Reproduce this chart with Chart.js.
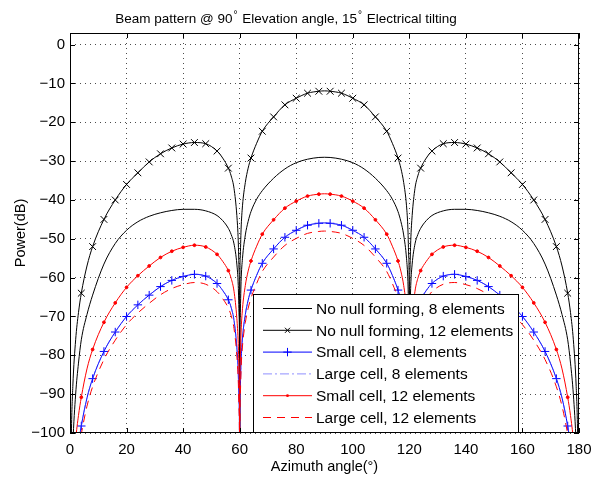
<!DOCTYPE html>
<html>
<head>
<meta charset="utf-8">
<script src="https://cdn.jsdelivr.net/npm/chart.js@4.4.1/dist/chart.umd.min.js"></script>
<style>
    html, body { margin: 0; padding: 0; background: #fff; }
</style>
</head>
<body>
<canvas id="beamChart" width="592" height="478"></canvas>
<script>
// Azimuth samples (deg) shared by all curves, denser next to the nulls
const AZIMUTH = [
    0, 0.5, 1, 2, 3, 4, 6, 8, 12, 16, 20, 24, 28, 32, 36, 40, 44, 48, 52, 54, 56, 57, 58, 59, 59.5, 59.8, 59.95,
    60,
    60.05, 60.2, 60.5, 61, 62, 63, 64, 66, 68, 72, 76, 80, 84, 88,
    90,
    92, 96, 100, 104, 108, 112, 114, 116, 117, 118, 119, 119.5, 119.8, 119.95,
    120,
    120.05, 120.2, 120.5, 121, 122, 123, 124, 126, 128, 132, 136, 140, 144, 148, 152, 156, 160, 164, 168, 172, 174, 176, 177, 178, 179, 179.5, 180
];

// Power (dB)
const NO_NULL_8 = [
    -130, -115, -103, -90, -82, -76, -69.5, -64.5, -56.5, -51.2, -47.8, -45.6, -44.2, -43.3, -42.7, -42.4, -42.4, -42.8, -44, -45.3, -47.3, -48.9, -51.3, -56.5, -62, -70, -82,
    -130,
    -82, -70, -61, -55, -49, -45.5, -43, -39.8, -37.6, -34.4, -32, -30.4, -29.5, -29.05,
    -29,
    -29.05, -29.5, -30.4, -32, -34.4, -37.6, -39.8, -43, -45.5, -49, -55, -61, -70, -82,
    -130,
    -82, -70, -62, -56.5, -51.3, -48.9, -47.3, -45.3, -44, -42.8, -42.4, -42.4, -42.7, -43.3, -44.2, -45.6, -47.8, -51.2, -56.5, -64.5, -69.5, -76, -82, -90, -103, -115, -130
];
const NO_NULL_12 = [
    -130, -100, -88, -76, -69, -64, -57, -52, -45, -40, -36, -33, -30.2, -28.1, -26.6, -25.6, -25.2, -25.5, -27.4, -29.2, -31.8, -33.8, -37, -44, -50.5, -58.5, -71,
    -130,
    -67, -55, -47.5, -41.5, -35.5, -31.8, -29.2, -25.4, -22.3, -18.6, -15.5, -13.8, -12.5, -12,
    -11.9,
    -12, -12.5, -13.8, -15.5, -18.6, -22.3, -25.4, -29.2, -31.8, -35.5, -41.5, -47.5, -55, -67,
    -130,
    -71, -58.5, -50.5, -44, -37, -33.8, -31.8, -29.2, -27.4, -25.5, -25.2, -25.6, -26.6, -28.1, -30.2, -33, -36, -40, -45, -52, -57, -64, -69, -76, -88, -100, -130
];
const SMALL_8 = [
    -160, -134, -122, -110, -103, -98.2, -91, -86, -79, -74, -70, -67, -64.5, -62.3, -60.7, -59.7, -59.15, -59.6, -61.5, -63.3, -65.7, -67.7, -71, -78, -84.5, -92.5, -105,
    -160,
    -101, -89, -81.5, -75.5, -69.5, -65.8, -63.2, -59.4, -56.3, -52.6, -49.6, -47.8, -46.5, -46,
    -45.9,
    -46, -46.5, -47.8, -49.6, -52.6, -56.3, -59.4, -63.2, -65.8, -69.5, -75.5, -81.5, -89, -101,
    -160,
    -105, -92.5, -84.5, -78, -71, -67.7, -65.7, -63.3, -61.5, -59.6, -59.15, -59.7, -60.7, -62.3, -64.5, -67, -70, -74, -79, -86, -91, -98.2, -103, -110, -122, -134, -160
];
// lies on top of the small cell curve in the figure
const LARGE_8 = [
    -160, -134, -122, -110, -103, -98.2, -91, -86, -79, -74, -70, -67, -64.5, -62.3, -60.7, -59.7, -59.15, -59.6, -61.5, -63.3, -65.7, -67.7, -71, -78, -84.5, -92.5, -105,
    -160,
    -101, -89, -81.5, -75.5, -69.5, -65.8, -63.2, -59.4, -56.3, -52.6, -49.6, -47.8, -46.5, -46,
    -45.9,
    -46, -46.5, -47.8, -49.6, -52.6, -56.3, -59.4, -63.2, -65.8, -69.5, -75.5, -81.5, -89, -101,
    -160,
    -105, -92.5, -84.5, -78, -71, -67.7, -65.7, -63.3, -61.5, -59.6, -59.15, -59.7, -60.7, -62.3, -64.5, -67, -70, -74, -79, -86, -91, -98.2, -103, -110, -122, -134, -160
];
const SMALL_12 = [
    -150, -126, -114, -102, -95.5, -90.8, -83.5, -78.5, -71.5, -66.5, -62.5, -59.5, -57, -54.8, -53.2, -52.2, -51.65, -52.1, -54, -55.8, -58.2, -60.2, -63.5, -70.5, -77, -85, -97.5,
    -150,
    -93.5, -81.5, -74, -68, -62, -58.3, -55.7, -51.9, -48.8, -45.1, -42.1, -40.3, -39, -38.5,
    -38.4,
    -38.5, -39, -40.3, -42.1, -45.1, -48.8, -51.9, -55.7, -58.3, -62, -68, -74, -81.5, -93.5,
    -150,
    -97.5, -85, -77, -70.5, -63.5, -60.2, -58.2, -55.8, -54, -52.1, -51.65, -52.2, -53.2, -54.8, -57, -59.5, -62.5, -66.5, -71.5, -78.5, -83.5, -90.8, -95.5, -102, -114, -126, -150
];
const LARGE_12 = [
    -162, -136, -124, -112, -105, -100.3, -93.1, -88.1, -81.1, -76.1, -72.1, -69.1, -66.6, -64.4, -62.8, -61.8, -61.25, -61.7, -63.6, -65.4, -67.8, -69.8, -73.1, -80.1, -86.6, -94.6, -107,
    -162,
    -103, -91.1, -83.6, -77.6, -71.6, -67.9, -65.3, -61.5, -58.4, -54.7, -51.7, -49.9, -48.6, -48.1,
    -48,
    -48.1, -48.6, -49.9, -51.7, -54.7, -58.4, -61.5, -65.3, -67.9, -71.6, -77.6, -83.6, -91.1, -103,
    -162,
    -107, -94.6, -86.6, -80.1, -73.1, -69.8, -67.8, -65.4, -63.6, -61.7, -61.25, -61.8, -62.8, -64.4, -66.6, -69.1, -72.1, -76.1, -81.1, -88.1, -93.1, -100.3, -105, -112, -124, -136, -162
];

const X_TICKS = [0, 20, 40, 60, 80, 100, 120, 140, 160, 180];
const Y_TICKS = [-100, -90, -80, -70, -60, -50, -40, -30, -20, -10, 0];

const FONT = '"Liberation Sans", Arial, Helvetica, sans-serif';

// markers sit on every 4th degree, never on the nulls
const onMarker = x => x % 4 === 0 && x % 60 !== 0;
const markerRadius = r => ctx => (ctx.raw && onMarker(ctx.raw.x) ? r : 0);

const toPoints = values => AZIMUTH.map((x, i) => ({ x, y: values[i] }));

const SERIES = [
    { label: 'No null forming, 8 elements', values: NO_NULL_8, color: '#000000', dash: [], marker: null },
    { label: 'No null forming, 12 elements', values: NO_NULL_12, color: '#000000', dash: [], marker: 'crossRot', size: 4.8 },
    { label: 'Small cell, 8 elements', values: SMALL_8, color: '#0000ff', dash: [], marker: 'cross', size: 4.2 },
    { label: 'Large cell, 8 elements', values: LARGE_8, color: 'rgba(70, 70, 255, 0.6)', dash: [9, 3, 2, 3], marker: null },
    { label: 'Small cell, 12 elements', values: SMALL_12, color: '#ff0000', dash: [], marker: 'circle', size: 1.4 },
    { label: 'Large cell, 12 elements', values: LARGE_12, color: '#ff0000', dash: [8, 6], marker: null }
];

const drawMarker = (ctx, style, x, y, size, color) => {
    ctx.save();
    ctx.strokeStyle = color;
    ctx.fillStyle = color;
    ctx.lineWidth = 1;
    ctx.beginPath();
    if (style === 'crossRot') {
        const d = size * Math.SQRT1_2;
        ctx.moveTo(x - d, y - d); ctx.lineTo(x + d, y + d);
        ctx.moveTo(x - d, y + d); ctx.lineTo(x + d, y - d);
        ctx.stroke();
    } else if (style === 'cross') {
        ctx.moveTo(x - size, y); ctx.lineTo(x + size, y);
        ctx.moveTo(x, y - size); ctx.lineTo(x, y + size);
        ctx.stroke();
    } else if (style === 'circle') {
        ctx.arc(x, y, size, 0, Math.PI * 2);
        ctx.fill();
    }
    ctx.restore();
};

// MATLAB-like box, inward ticks, legend and texts
const matlabDecor = {
    id: 'matlabDecor',
    afterDraw(chart) {
        const { ctx, chartArea: a, scales: { x, y } } = chart;
        ctx.save();
        ctx.strokeStyle = '#000';
        ctx.lineWidth = 1;
        ctx.setLineDash([]);

        // inward ticks on all four sides
        ctx.beginPath();
        X_TICKS.forEach(v => {
            const px = Math.round(x.getPixelForValue(v)) + 0.5;
            ctx.moveTo(px, a.bottom); ctx.lineTo(px, a.bottom - 5);
            ctx.moveTo(px, a.top); ctx.lineTo(px, a.top + 5);
        });
        Y_TICKS.forEach(v => {
            const py = Math.round(y.getPixelForValue(v)) + 0.5;
            ctx.moveTo(a.left, py); ctx.lineTo(a.left + 5, py);
            ctx.moveTo(a.right, py); ctx.lineTo(a.right - 5, py);
        });
        ctx.stroke();
        ctx.strokeRect(a.left + 0.5, a.top + 0.5, a.right - a.left - 1, a.bottom - a.top - 1);

        // legend box
        const box = { left: 253.5, top: 294.5, right: 518.5, bottom: 432.5 };
        ctx.fillStyle = '#fff';
        ctx.fillRect(box.left, box.top, box.right - box.left, box.bottom - box.top);
        ctx.strokeRect(box.left, box.top, box.right - box.left, box.bottom - box.top);
        ctx.font = '15.5px ' + FONT;
        ctx.textBaseline = 'middle';
        ctx.textAlign = 'left';
        SERIES.forEach((s, i) => {
            const ry = 308.5 + i * 21.8;
            ctx.save();
            ctx.strokeStyle = s.color;
            ctx.setLineDash(s.dash);
            ctx.beginPath();
            ctx.moveTo(263, ry); ctx.lineTo(312, ry);
            ctx.stroke();
            ctx.restore();
            if (s.marker) drawMarker(ctx, s.marker, 287.5, ry, s.marker === 'crossRot' ? 3.6 : s.size, s.color);
            ctx.fillStyle = '#000';
            ctx.fillText(s.label, 316, ry + 1);
        });

        // title with raised degree rings (MATLAB puts it a bit left of centre)
        const parts = [
            ['Beam pattern @ 90', false], ['\u00b0', true], [' Elevation angle, 15', false],
            ['\u00b0', true], [' Electrical tilting', false]
        ];
        const bigFont = '13.5px ' + FONT;
        const supFont = '10px ' + FONT;
        ctx.textBaseline = 'alphabetic';
        let total = 0;
        parts.forEach(([t, sup]) => {
            ctx.font = sup ? supFont : bigFont;
            total += ctx.measureText(t).width + (sup ? 2 : 0);
        });
        let tx = 286 - total / 2;
        parts.forEach(([t, sup]) => {
            ctx.font = sup ? supFont : bigFont;
            ctx.fillText(t, tx + (sup ? 1 : 0), sup ? 18 : 23);
            tx += ctx.measureText(t).width + (sup ? 2 : 0);
        });

        // axis titles
        ctx.font = '14.5px ' + FONT;
        ctx.textAlign = 'center';
        ctx.fillText('Azimuth angle(\u00b0)', (a.left + a.right) / 2, 471);
        ctx.save();
        ctx.translate(25, (a.top + a.bottom) / 2);
        ctx.rotate(-Math.PI / 2);
        ctx.fillText('Power(dB)', 0, 0);
        ctx.restore();

        ctx.restore();
    }
};

const initBeamChart = () => {
    const ctx = document.getElementById('beamChart').getContext('2d');

    const datasets = SERIES.map((s, i) => ({
        label: s.label,
        data: toPoints(s.values),
        borderColor: s.color,
        backgroundColor: s.color,
        borderWidth: 1,
        borderDash: s.dash,
        cubicInterpolationMode: 'monotone',
        pointStyle: s.marker || 'circle',
        pointRadius: s.marker ? markerRadius(s.size) : 0,
        pointBorderColor: s.color,
        pointBackgroundColor: s.color,
        pointBorderWidth: 1,
        fill: false,
        order: SERIES.length - i
    }));

    return new Chart(ctx, {
        type: 'line',
        data: { datasets },
        plugins: [matlabDecor],
        options: {
            responsive: false,
            animation: false,
            events: [],
            layout: {
                padding: { top: 33, right: 13, left: 0, bottom: 0 }
            },
            scales: {
                x: {
                    type: 'linear',
                    min: 0,
                    max: 180,
                    afterFit: scale => {
                        scale.height = 45;
                        scale.paddingLeft = 0;
                        scale.paddingRight = 0;
                    },
                    afterBuildTicks: scale => { scale.ticks = X_TICKS.map(value => ({ value })); },
                    grid: { color: 'rgba(0,0,0,0.7)', drawTicks: false },
                    border: { display: false, dash: [1, 4] },
                    ticks: {
                        padding: 8,
                        color: '#000',
                        maxRotation: 0,
                        font: { family: FONT, size: 15 }
                    }
                },
                y: {
                    type: 'linear',
                    min: -100,
                    max: 3,
                    afterFit: scale => {
                        scale.width = 70;
                        scale.paddingTop = 0;
                        scale.paddingBottom = 0;
                    },
                    afterBuildTicks: scale => { scale.ticks = Y_TICKS.map(value => ({ value })); },
                    grid: { color: 'rgba(0,0,0,0.7)', drawTicks: false },
                    border: { display: false, dash: [1, 4] },
                    ticks: {
                        padding: 5,
                        color: '#000',
                        callback: value => (value < 0 ? '\u2212' + Math.abs(value) : String(value)),
                        font: { family: FONT, size: 15 }
                    }
                }
            },
            plugins: {
                legend: { display: false },
                title: { display: false },
                tooltip: { enabled: false }
            }
        }
    });
};

initBeamChart();
</script>
</body>
</html>
